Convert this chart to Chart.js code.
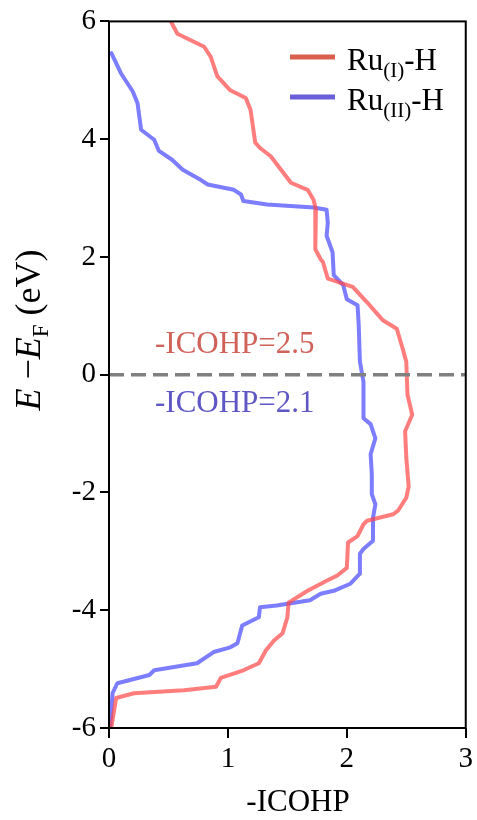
<!DOCTYPE html>
<html>
<head>
<meta charset="utf-8">
<script src="https://cdn.jsdelivr.net/npm/chart.js@4.4.1/dist/chart.umd.min.js"></script>
<style>
  html, body { margin: 0; padding: 0; background: #fff; }
  #wrap { width: 477px; height: 820px; }
</style>
</head>
<body>
<div id="wrap"><canvas id="icohp-chart"></canvas></div>
<script>
// energy (eV) and -ICOHP, top to bottom
const ru1Energy = [6.0, 5.79, 5.57, 5.40, 5.07, 4.83, 4.70, 4.50, 3.94, 3.85, 3.71, 3.26, 3.14, 2.97, 2.80,
  2.13, 1.96, 1.91, 1.63, 1.49, 1.23, 0.93, 0.78, 0.44, 0.22, -0.34, -0.68, -0.96, -1.41, -1.90,
  -2.09, -2.31, -2.37, -2.48, -2.54, -2.74, -2.85, -3.28, -3.41, -3.50, -3.67, -3.87, -4.12, -4.39,
  -4.51, -4.68, -4.90, -5.02, -5.15, -5.30, -5.36, -5.41, -5.49, -5.74, -5.98];
const ru1Icohp = [0.52, 0.575, 0.80, 0.855, 0.91, 1.02, 1.15, 1.19, 1.23, 1.27, 1.36, 1.53, 1.67, 1.72, 1.74,
  1.735, 1.78, 1.80, 1.84, 2.05, 2.17, 2.30, 2.42, 2.47, 2.50, 2.51, 2.55, 2.49, 2.50, 2.52,
  2.50, 2.43, 2.39, 2.17, 2.14, 2.09, 2.01, 2.00, 1.92, 1.83, 1.67, 1.51, 1.50, 1.46,
  1.39, 1.32, 1.26, 1.13, 0.94, 0.90, 0.63, 0.21, 0.06, 0.04, 0.02];

const ru2Energy = [5.46, 5.12, 4.81, 4.61, 4.16, 3.99, 3.80, 3.65, 3.48, 3.31, 3.23, 3.14, 3.06, 2.95, 2.89,
  2.84, 2.80, 2.58, 2.36, 2.08, 1.69, 1.52, 1.28, 1.18, 0.84, 0.22, -0.12, -0.74, -0.84, -1.08,
  -1.35, -1.69, -2.03, -2.20, -2.43, -2.82, -2.96, -3.04, -3.38, -3.55, -3.67, -3.72, -3.83, -3.92,
  -3.95, -4.12, -4.26, -4.56, -4.63, -4.71, -4.90, -5.02, -5.10, -5.24, -5.41, -6.0];
const ru2Icohp = [0.02, 0.10, 0.20, 0.24, 0.27, 0.38, 0.42, 0.53, 0.62, 0.77, 0.83, 1.05, 1.11, 1.13, 1.33,
  1.72, 1.83, 1.84, 1.83, 1.88, 1.89, 1.97, 2.00, 2.09, 2.10, 2.11, 2.14, 2.14, 2.20, 2.24,
  2.20, 2.21, 2.21, 2.24, 2.22, 2.22, 2.14, 2.11, 2.11, 2.03, 1.89, 1.78, 1.69, 1.41,
  1.27, 1.26, 1.12, 1.08, 1.02, 0.88, 0.74, 0.38, 0.34, 0.07, 0.03, 0.01];

const fermiIcohp = [0, 3];
const fermiEnergy = [0, 0];

const xTicks = [0, 1, 2, 3];
const yTicks = [-6, -4, -2, 0, 2, 4, 6];

const serif = "'Liberation Serif', 'DejaVu Serif', serif";

function toPoints(xs, ys) {
    return xs.map((x, i) => ({ x: x, y: ys[i] }));
}

// frame, legend, annotations and axis titles (with italics / subscripts)
const decorations = {
    id: 'decorations',
    afterDraw(chart) {
        const ctx = chart.ctx;
        const a = chart.chartArea;
        ctx.save();
        ctx.strokeStyle = '#000';
        ctx.lineWidth = 2;
        ctx.strokeRect(a.left, a.top, a.right - a.left, a.bottom - a.top);

        // legend
        const rows = [
            { color: '#d9604f', sub: '(I)', y: 57 },
            { color: '#6a5fd8', sub: '(II)', y: 97 }
        ];
        rows.forEach(r => {
            ctx.strokeStyle = r.color;
            ctx.lineWidth = 5;
            ctx.beginPath();
            ctx.moveTo(290, r.y);
            ctx.lineTo(335, r.y);
            ctx.stroke();
            ctx.fillStyle = '#000';
            ctx.textBaseline = 'alphabetic';
            ctx.textAlign = 'left';
            let x = 347;
            const base = r.y + 13;
            ctx.font = '31px ' + serif;
            ctx.fillText('Ru', x, base);
            x += ctx.measureText('Ru').width;
            ctx.font = '21px ' + serif;
            ctx.fillText(r.sub, x, base + 7);
            x += ctx.measureText(r.sub).width;
            ctx.font = '31px ' + serif;
            ctx.fillText('-H', x, base);
        });

        // annotations
        ctx.font = '31px ' + serif;
        ctx.fillStyle = '#d0625a';
        ctx.fillText('-ICOHP=2.5', 155, 353);
        ctx.fillStyle = '#5f57c4';
        ctx.fillText('-ICOHP=2.1', 155, 412);

        // x title
        ctx.fillStyle = '#000';
        ctx.font = '31px ' + serif;
        ctx.textAlign = 'center';
        ctx.fillText('-ICOHP', 298, 811);

        // y title
        const parts = [
            { t: 'E', f: 'italic 36px ' + serif, dy: 0 },
            { t: ' \u2212', f: '36px ' + serif, dy: 0 },
            { t: 'E', f: 'italic 36px ' + serif, dy: 0 },
            { t: 'F', f: '23px ' + serif, dy: 8 },
            { t: ' (eV)', f: '36px ' + serif, dy: 0 }
        ];
        let total = 0;
        parts.forEach(p => { ctx.font = p.f; p.w = ctx.measureText(p.t).width; total += p.w; });
        ctx.translate(40, 330);
        ctx.rotate(-Math.PI / 2);
        ctx.textAlign = 'left';
        let px = -total / 2;
        parts.forEach(p => {
            ctx.font = p.f;
            ctx.fillText(p.t, px, p.dy);
            px += p.w;
        });
        ctx.restore();
    }
};

let ctx = document.getElementById('icohp-chart');

let data = {
    datasets: [{
        label: 'E_F',
        data: toPoints(fermiIcohp, fermiEnergy),
        borderColor: '#808080',
        borderWidth: 3.5,
        borderDash: [15, 7],
        pointRadius: 0,
        showLine: true
    }, {
        label: 'Ru(I)-H',
        data: toPoints(ru1Icohp, ru1Energy),
        borderColor: 'rgba(255, 70, 70, 0.7)',
        borderWidth: 4,
        borderJoinStyle: 'round',
        borderCapStyle: 'round',
        pointRadius: 0,
        showLine: true
    }, {
        label: 'Ru(II)-H',
        data: toPoints(ru2Icohp, ru2Energy),
        borderColor: 'rgba(70, 70, 255, 0.7)',
        borderWidth: 4,
        borderJoinStyle: 'round',
        borderCapStyle: 'round',
        pointRadius: 0,
        showLine: true
    }]
};

var icohpChart = new Chart(ctx, {
    type: 'scatter',
    data: data,
    options: {
        responsive: true,
        maintainAspectRatio: false,
        animation: false,
        layout: { padding: { top: 18, right: 11, left: 0, bottom: 0 } },
        plugins: {
            legend: { display: false },
            tooltip: { enabled: false }
        },
        scales: {
            x: {
                type: 'linear',
                min: 0,
                max: 3,
                afterFit: s => { s.height = 92; },
                afterBuildTicks: s => { s.ticks = xTicks.map(v => ({ value: v })); },
                border: { display: false },
                grid: { drawOnChartArea: false, drawTicks: true, tickLength: 10, color: '#000', lineWidth: 2 },
                ticks: { color: '#000', padding: 4, maxRotation: 0, font: { family: serif, size: 29 } }
            },
            y: {
                type: 'linear',
                min: -6,
                max: 6,
                afterFit: s => { s.width = 109; },
                afterBuildTicks: s => { s.ticks = yTicks.map(v => ({ value: v })); },
                border: { display: false },
                grid: { drawOnChartArea: false, drawTicks: true, tickLength: 9, color: '#000', lineWidth: 2 },
                ticks: { color: '#000', padding: 4, font: { family: serif, size: 29 } }
            }
        }
    },
    plugins: [decorations]
});
</script>
</body>
</html>
